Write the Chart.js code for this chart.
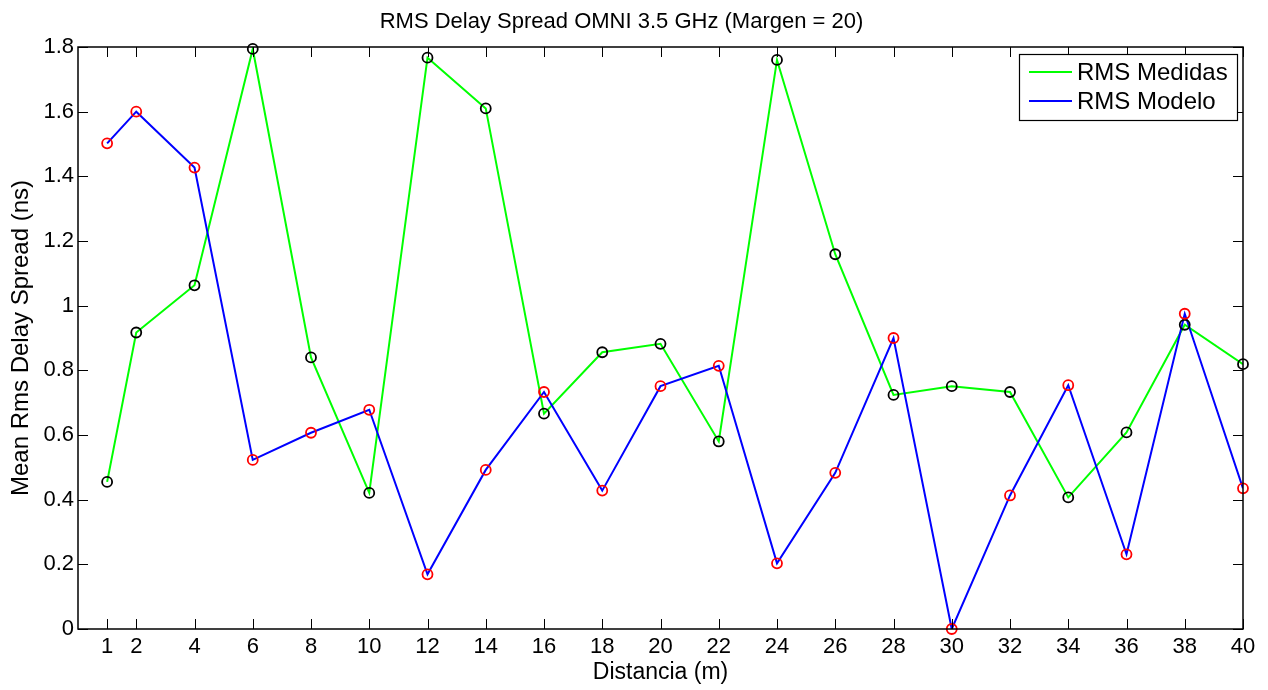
<!DOCTYPE html>
<html>
<head>
<meta charset="utf-8">
<script src="https://cdn.jsdelivr.net/npm/chart.js@4.4.1/dist/chart.umd.min.js"></script>
<style>
  html, body { margin: 0; padding: 0; background: #fff; }
  #wrap { width: 1268px; height: 690px; }
</style>
</head>
<body>
<div id="wrap"><canvas id="chart" width="1268" height="690"></canvas></div>
<script>
// distance (m) and mean RMS delay spread (ns)
const distancia = [1, 2, 4, 6, 8, 10, 12, 14, 16, 18, 20, 22, 24, 26, 28, 30, 32, 34, 36, 38, 40];
const rmsMedidas = [0.455, 0.917, 1.063, 1.794, 0.840, 0.421, 1.767, 1.610, 0.666, 0.856, 0.882,
                    0.580, 1.760, 1.159, 0.724, 0.751, 0.733, 0.407, 0.608, 0.941, 0.819];
const rmsModelo = [1.502, 1.600, 1.427, 0.523, 0.607, 0.678, 0.169, 0.492, 0.733, 0.428, 0.751,
                   0.814, 0.203, 0.483, 0.900, 0.000, 0.413, 0.754, 0.231, 0.975, 0.435];

// ticks: one per distance on x, 0.2 steps on y
const xTicks = distancia;
const yTicks = [0, 0.2, 0.4, 0.6, 0.8, 1, 1.2, 1.4, 1.6, 1.8];

const toPoints = (ys) => distancia.map((x, i) => ({ x: x, y: ys[i] }));

Chart.defaults.font.family = '"Liberation Sans", Arial, Helvetica, sans-serif';
Chart.defaults.color = '#000';

// matlab style box: border, inward ticks on all sides, and the legend in the top right corner
const matlabBox = {
    id: 'matlabBox',
    afterDraw(chart) {
        const { ctx, chartArea: a, scales } = chart;
        const len = 10;
        ctx.save();
        ctx.strokeStyle = '#000';
        ctx.lineWidth = 1;
        ctx.beginPath();
        xTicks.forEach(v => {
            const px = Math.round(scales.x.getPixelForValue(v)) + 0.5;
            ctx.moveTo(px, a.bottom);
            ctx.lineTo(px, a.bottom - len);
            ctx.moveTo(px, a.top);
            ctx.lineTo(px, a.top + len);
        });
        yTicks.forEach(v => {
            const py = Math.round(scales.y.getPixelForValue(v)) + 0.5;
            ctx.moveTo(a.left, py);
            ctx.lineTo(a.left + len, py);
            ctx.moveTo(a.right, py);
            ctx.lineTo(a.right - len, py);
        });
        ctx.stroke();

        ctx.lineWidth = 1.5;
        ctx.strokeRect(a.left, a.top, a.right - a.left, a.bottom - a.top);

        // legend
        const items = chart.data.datasets.filter(d => d.inLegend);
        const bx = a.right - 224, by = a.top + 7, bw = 218, bh = 66;
        ctx.fillStyle = '#fff';
        ctx.fillRect(bx, by, bw, bh);
        ctx.lineWidth = 1.2;
        ctx.strokeRect(bx + 0.5, by + 0.5, bw, bh);
        ctx.font = '24px "Liberation Sans", Arial, sans-serif';
        ctx.textBaseline = 'middle';
        ctx.textAlign = 'left';
        items.forEach((d, i) => {
            const y = by + 18 + i * 29;
            ctx.strokeStyle = d.borderColor;
            ctx.lineWidth = 2;
            ctx.beginPath();
            ctx.moveTo(bx + 10, y);
            ctx.lineTo(bx + 53, y);
            ctx.stroke();
            ctx.fillStyle = '#000';
            ctx.fillText(d.label, bx + 58, y + 1);
        });
        ctx.restore();
    }
};

const ctx = document.getElementById('chart').getContext('2d');
const chart = new Chart(ctx, {
    type: 'line',
    data: {
        datasets: [
            {
                label: 'RMS Medidas o',
                data: toPoints(rmsMedidas),
                showLine: false,
                pointRadius: 5,
                pointBorderWidth: 1.8,
                pointBorderColor: '#000000',
                pointBackgroundColor: 'rgba(0,0,0,0)',
                clip: false,
                order: 1
            },
            {
                label: 'RMS Modelo o',
                data: toPoints(rmsModelo),
                showLine: false,
                pointRadius: 5,
                pointBorderWidth: 1.8,
                pointBorderColor: '#ff0000',
                pointBackgroundColor: 'rgba(0,0,0,0)',
                clip: false,
                order: 0
            },
            {
                label: 'RMS Medidas',
                inLegend: true,
                data: toPoints(rmsMedidas),
                borderColor: '#00ff00',
                borderWidth: 2,
                pointRadius: 0,
                tension: 0,
                order: 3
            },
            {
                label: 'RMS Modelo',
                inLegend: true,
                data: toPoints(rmsModelo),
                borderColor: '#0000ff',
                borderWidth: 2,
                pointRadius: 0,
                tension: 0,
                order: 2
            }
        ]
    },
    options: {
        responsive: false,
        animation: false,
        layout: { padding: { left: 0, right: 25, top: 0, bottom: 0 } },
        plugins: {
            legend: { display: false },
            tooltip: { enabled: false },
            title: {
                display: true,
                text: 'RMS Delay Spread OMNI 3.5 GHz (Margen = 20)',
                font: { size: 22, weight: 'normal' },
                padding: { top: 9, bottom: 11.6 }
            }
        },
        scales: {
            x: {
                type: 'linear',
                min: 0,
                max: 40,
                grid: { display: false, drawTicks: false },
                border: { display: false },
                afterBuildTicks: (scale) => { scale.ticks = xTicks.map(v => ({ value: v })); },
                afterFit: (scale) => { scale.height = 61; },
                ticks: {
                    autoSkip: false,
                    maxRotation: 0,
                    padding: 5,
                    font: { size: 22 },
                    callback: (v) => String(v)
                },
                title: {
                    display: true,
                    text: 'Distancia (m)',
                    font: { size: 23 },
                    padding: { top: 0, bottom: 4 }
                }
            },
            y: {
                min: 0,
                max: 1.8,
                grid: { display: false, drawTicks: false },
                border: { display: false },
                afterBuildTicks: (scale) => { scale.ticks = yTicks.map(v => ({ value: v })); },
                afterFit: (scale) => { scale.width = 78; },
                ticks: {
                    padding: 4,
                    font: { size: 22 },
                    callback: (v) => String(+v.toFixed(1))
                },
                title: {
                    display: true,
                    text: 'Mean Rms Delay Spread (ns)',
                    font: { size: 24 },
                    padding: { top: 7, bottom: 0 }
                }
            }
        }
    },
    plugins: [matlabBox]
});
</script>
</body>
</html>
